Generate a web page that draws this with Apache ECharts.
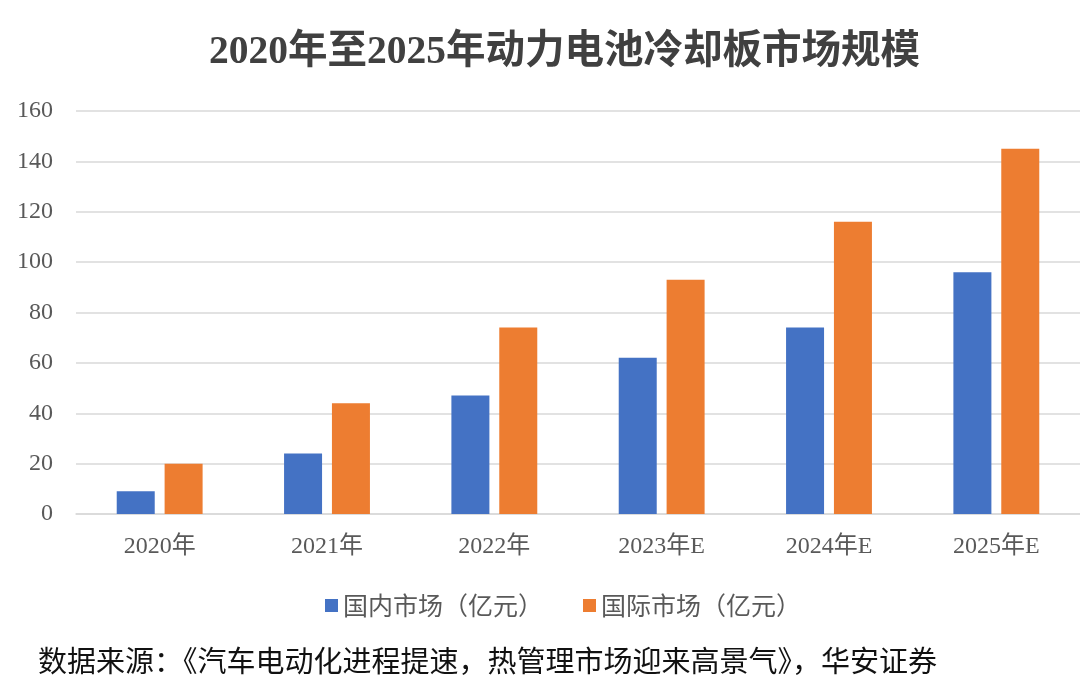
<!DOCTYPE html>
<html><head><meta charset="utf-8">
<script src="https://cdn.jsdelivr.net/npm/echarts@6/dist/echarts.min.js"></script>
<style>html,body{margin:0;padding:0;background:#fff}#c{width:1080px;height:692px}</style>
</head><body><div id="c"></div>
<script>
const categories = ['2020年','2021年','2022年','2023年E','2024年E','2025年E'];
const domestic = [9, 24, 47, 62, 74, 96];
const international = [20, 44, 74, 93, 116, 145];
const seriesNames = ['国内市场（亿元）','国际市场（亿元）'];
const titleText = '2020年至2025年动力电池冷却板市场规模';
const sourceText = '数据来源：《汽车电动化进程提速，热管理市场迎来高景气》，华安证券';

const chart = echarts.init(document.getElementById('c'));
const serif = '"Liberation Serif","Noto Sans CJK SC",serif';
chart.setOption({
  backgroundColor:'#fff',
  animation:false,
  title:{text:titleText,left:204,top:28,
    textStyle:{fontFamily:serif,fontSize:39.5,fontWeight:'bold',color:'#404040'}},
  graphic:[{type:'text',left:38,top:646,style:{text:sourceText,
    font:'29px "Noto Sans CJK SC", sans-serif',fill:'#111'}}],
  legend:{top:588,left:320,itemWidth:13,itemHeight:13,itemGap:40,icon:'rect',
    textStyle:{fontFamily:'"Noto Sans CJK SC",sans-serif',fontSize:25,color:'#595959'},
    data:seriesNames},
  grid:{left:76,width:1009,top:111,bottom:178,containLabel:false},
  xAxis:{type:'category',data:categories,
    axisLine:{lineStyle:{color:'#d9d9d9',width:1.5}},axisTick:{show:false},
    axisLabel:{fontFamily:serif,fontSize:24,color:'#595959',margin:21}},
  yAxis:{type:'value',min:0,max:160,interval:20,
    axisLine:{show:false},axisTick:{show:false},
    splitLine:{lineStyle:{color:'#d9d9d9',width:1.5}},
    axisLabel:{fontFamily:serif,fontSize:24,color:'#595959',margin:23}},
  series:[
    {name:seriesNames[0],type:'bar',data:domestic,barWidth:38,barGap:'26%',itemStyle:{color:'#4472C4'}},
    {name:seriesNames[1],type:'bar',data:international,barWidth:38,itemStyle:{color:'#ED7D31'}}
  ]
});
</script></body></html>
